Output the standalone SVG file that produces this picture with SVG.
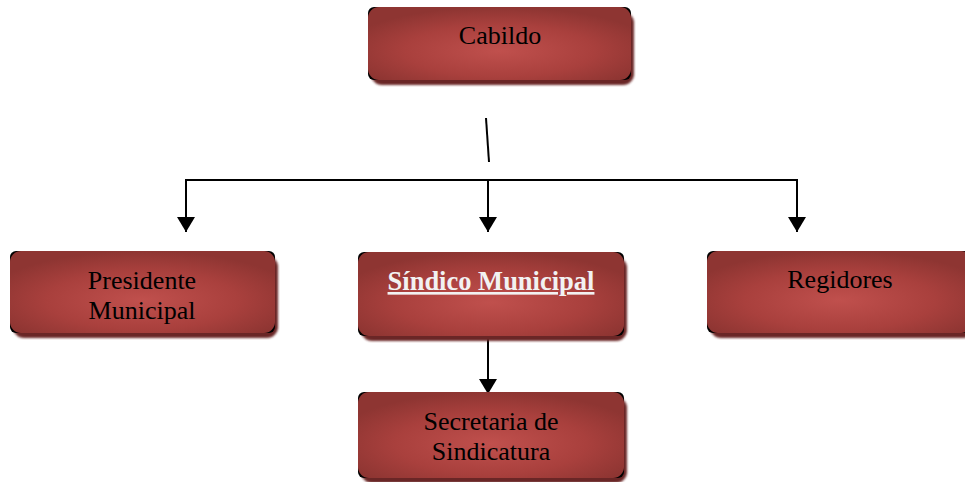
<svg xmlns="http://www.w3.org/2000/svg" width="965" height="482" viewBox="0 0 965 482">
<defs>
<radialGradient id="g" cx="50%" cy="60%" r="60%">
<stop offset="0" stop-color="#c0504d"/>
<stop offset="0.6" stop-color="#a9403d"/>
<stop offset="1" stop-color="#8e3532"/>
</radialGradient>
<filter id="sh" x="-5%" y="-10%" width="110%" height="130%">
<feGaussianBlur stdDeviation="1.2"/>
</filter>
<marker id="ah" markerWidth="17" markerHeight="18" refX="15" refY="9" orient="auto" markerUnits="userSpaceOnUse">
<path d="M0,0 L15,9 L0,18 Z" fill="#000"/>
</marker>
</defs>
<style>
.shadow{fill:#6b2625;filter:url(#sh)}
.edge{fill:#000}
.body{fill:url(#g)}
.t{font-family:"Liberation Serif","Times New Roman",serif;font-size:26px;fill:#000;text-anchor:middle}
.tb{font-family:"Liberation Serif","Times New Roman",serif;font-size:26.5px;font-weight:bold;fill:#f2f2f2;text-anchor:middle;text-decoration:underline}
.c{stroke:#000;stroke-width:2;fill:none}
</style>
<g id="connectors">
<line class="c" x1="486" y1="118" x2="489" y2="162"/>
<polyline class="c" points="186,181 186,180 797,180 797,181"/>
<line class="c" x1="186" y1="179" x2="186" y2="232" marker-end="url(#ah)"/>
<line class="c" x1="488" y1="180" x2="488" y2="232" marker-end="url(#ah)"/>
<line class="c" x1="797" y1="179" x2="797" y2="232" marker-end="url(#ah)"/>
<line class="c" x1="488" y1="329" x2="488" y2="394" marker-end="url(#ah)"/>
</g>
<g id="cabildo">
<rect class="shadow" x="371" y="12" width="263" height="73" rx="11"/>
<rect class="edge" x="368" y="7" width="263" height="73" rx="6"/>
<rect class="body" x="368" y="7" width="263" height="73" rx="11"/>
<text class="t" x="500" y="44">Cabildo</text>
</g>
<g id="presidente">
<rect class="shadow" x="13" y="256" width="265" height="82" rx="11"/>
<rect class="edge" x="10" y="251" width="265" height="82" rx="6"/>
<rect class="body" x="10" y="251" width="265" height="82" rx="11"/>
<text class="t" x="142" y="289">Presidente</text>
<text class="t" x="142" y="319">Municipal</text>
</g>
<g id="sindico">
<rect class="shadow" x="361" y="257" width="266" height="84" rx="11"/>
<rect class="edge" x="358" y="252" width="266" height="84" rx="6"/>
<rect class="body" x="358" y="252" width="266" height="84" rx="11"/>
<text class="tb" x="491" y="290">Síndico Municipal</text>
</g>
<g id="regidores">
<rect class="shadow" x="710" y="256" width="265" height="82" rx="11"/>
<rect class="edge" x="707" y="251" width="265" height="82" rx="6"/>
<rect class="body" x="707" y="251" width="265" height="82" rx="11"/>
<text class="t" x="840" y="288">Regidores</text>
</g>
<g id="secretaria">
<rect class="shadow" x="361" y="397" width="266" height="86" rx="11"/>
<rect class="edge" x="358" y="392" width="266" height="86" rx="6"/>
<rect class="body" x="358" y="392" width="266" height="86" rx="11"/>
<text class="t" x="491" y="430">Secretaria de</text>
<text class="t" x="491" y="460">Sindicatura</text>
</g>
</svg>
